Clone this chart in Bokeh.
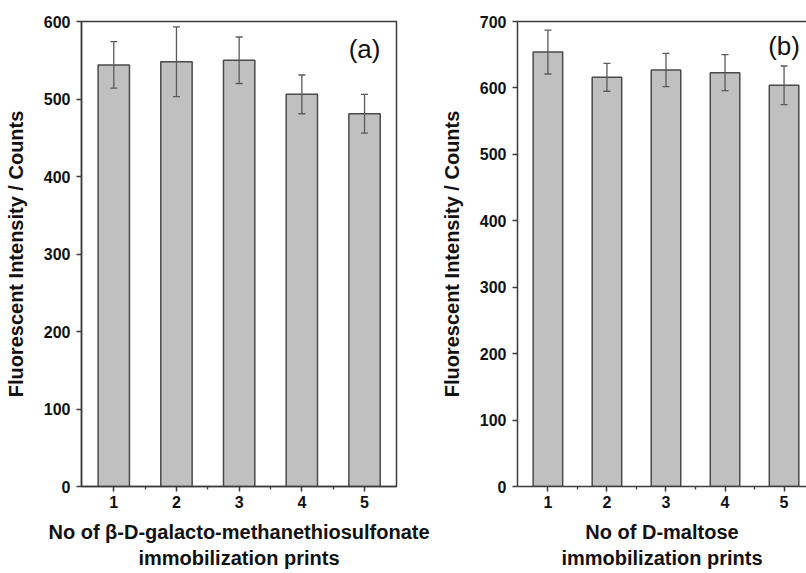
from bokeh.plotting import figure
from bokeh.layouts import row
from bokeh.models import (ColumnDataSource, Range1d, FixedTicker, Whisker, TeeHead,
                          LinearAxis, Label)
from bokeh.embed import file_html
from bokeh.resources import INLINE

# ---- data ----
prints = [1, 2, 3, 4, 5]
tick_labels = ["1", "2", "3", "4", "5"]
galacto_mean = [544, 548, 550, 506, 481]
galacto_err = [30, 45, 30, 25, 25]
maltose_mean = [654, 616, 627, 623, 604]
maltose_err = [33, 21, 25, 27, 29]

FONT = "Liberation Sans"
BAR_FILL = "#c0c0c0"
BAR_LINE = "#4a4a4a"
AXIS_COL = "#3c3c3c"
ERR_COL = "#5a5a5a"
TXT = "#111111"


def panel(means, errs, ymax, xlabel, tag, tag_y, width, x_end, border_left, box):
    src = ColumnDataSource(dict(
        x=prints, top=means,
        upper=[m + e for m, e in zip(means, errs)],
        lower=[m - e for m, e in zip(means, errs)],
    ))
    p = figure(width=width, height=573, output_backend="svg", toolbar_location=None,
               x_range=Range1d(0.485, x_end), y_range=Range1d(0, ymax),
               min_border_left=border_left,
               min_border_right=(width - border_left - int(round((x_end - 0.485) * 62.7))) if box else 0,
               min_border_top=21, min_border_bottom=87)
    p.vbar(x="x", top="top", width=0.5, bottom=0, source=src,
           fill_color=BAR_FILL, line_color=BAR_LINE, line_width=1.5)
    p.add_layout(Whisker(source=src, base="x", upper="upper", lower="lower",
                         level="overlay",
                         line_color=ERR_COL, line_width=1.3,
                         upper_head=TeeHead(size=7, line_color=ERR_COL, line_width=1.3),
                         lower_head=TeeHead(size=7, line_color=ERR_COL, line_width=1.3)))
    p.grid.visible = False
    p.background_fill_color = "white"
    p.border_fill_color = "white"

    xa = p.below[0]
    ya = p.left[0]
    xa.ticker = FixedTicker(ticks=prints, minor_ticks=[p_ + 0.5 for p_ in prints[:-1]])
    xa.major_label_overrides = {p_: t for p_, t in zip(prints, tick_labels)}
    ya.ticker = FixedTicker(ticks=list(range(0, ymax + 1, 100)))
    for ax in (xa, ya):
        ax.axis_line_color = AXIS_COL
        ax.axis_line_width = 1.5
        ax.major_tick_line_color = AXIS_COL
        ax.major_tick_line_width = 1.5
        ax.major_tick_out = 5
        ax.major_tick_in = 0
        ax.major_label_text_font = FONT
        ax.major_label_text_font_style = "bold"
        ax.major_label_text_font_size = "16px"
        ax.major_label_text_color = TXT
        ax.axis_label_text_font = FONT
        ax.axis_label_text_font_style = "bold"
        ax.axis_label_text_font_size = "20px"
        ax.axis_label_text_color = TXT
    xa.minor_tick_line_color = AXIS_COL
    xa.minor_tick_line_width = 1.3
    xa.minor_tick_out = 3
    xa.minor_tick_in = 0
    ya.minor_tick_line_color = None
    xa.major_label_standoff = 4
    ya.major_label_standoff = 6
    xa.axis_label = xlabel
    xa.axis_label_standoff = 10
    ya.axis_label = "Fluorescent Intensity / Counts"
    ya.axis_label_standoff = 14

    if box:
        p.outline_line_color = AXIS_COL
        p.outline_line_width = 1.5
        p.outline_line_alpha = 1
    else:
        p.outline_line_color = None
        top_ax = LinearAxis(ticker=FixedTicker(ticks=[]), major_label_text_font_size="0px",
                            axis_line_color=AXIS_COL, axis_line_width=1.5,
                            major_tick_line_color=None, minor_tick_line_color=None)
        p.add_layout(top_ax, "above")

    p.add_layout(Label(x=5, y=tag_y, text=tag, text_font=FONT, text_font_size="26px",
                       text_color=TXT, text_align="center", text_baseline="middle"))
    return p


pa = panel(galacto_mean, galacto_err, 600,
           "No of \u03b2-D-galacto-methanethiosulfonate\nimmobilization prints",
           "(a)", 565, 437, 5.51, 81, True)
pb = panel(maltose_mean, maltose_err, 700,
           "No of D-maltose\nimmobilization prints",
           "(b)", 663, 369, 5.38, 63, False)

layout = row(pa, pb, spacing=0)
open("out.html", "w").write(file_html(layout, INLINE))
